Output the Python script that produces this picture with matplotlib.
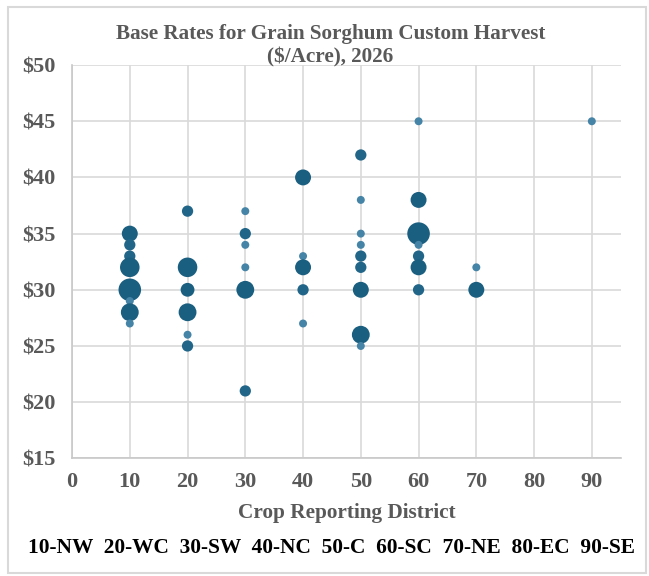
import matplotlib
matplotlib.use("Agg")
import matplotlib.pyplot as plt
import numpy as np

# district code, rate ($/acre), number of responses (bubble size)
district = [10, 10, 10, 10, 10, 10, 10, 10,
            20, 20, 20, 20, 20, 20,
            30, 30, 30, 30, 30, 30,
            40, 40, 40, 40, 40,
            50, 50, 50, 50, 50, 50, 50, 50, 50,
            60, 60, 60, 60, 60, 60, 60,
            70, 70,
            90]
rate = [35, 34, 33, 32, 30, 29, 28, 27,
        37, 32, 30, 28, 26, 25,
        37, 35, 34, 32, 30, 21,
        40, 33, 32, 30, 27,
        42, 38, 35, 34, 33, 32, 30, 26, 25,
        45, 38, 35, 34, 33, 32, 30,
        32, 30,
        45]
count = [4, 2, 2, 6, 8, 1, 5, 1,
         2, 6, 3, 5, 1, 2,
         1, 2, 1, 1, 5, 2,
         4, 1, 4, 2, 1,
         2, 1, 1, 1, 2, 2, 4, 5, 1,
         1, 4, 8, 1, 2, 4, 2,
         1, 4,
         1]
region_labels = ["10-NW", "20-WC", "30-SW", "40-NC", "50-C",
                 "60-SC", "70-NE", "80-EC", "90-SE"]

grey = "#595959"
plt.rcParams["font.family"] = ["Liberation Serif", "DejaVu Serif"]
plt.rcParams["font.weight"] = "bold"

fig = plt.figure(figsize=(6.49, 5.76), dpi=100)
ax = fig.add_axes([0.111, 0.2043, 0.8454, 0.6827])

cnt = np.array(count)
sizes = 33 * cnt
colors = ["#4584a6" if c == 1 else ("#216689" if c == 2 else "#1a5e80") for c in cnt]
ax.scatter(district, rate, s=sizes, c=colors, linewidths=0, zorder=3)

ax.set_xlim(0, 95)
ax.set_ylim(15, 50)
ax.set_xticks(range(0, 100, 10))
ax.set_yticks(range(15, 55, 5))
ax.set_yticklabels(["$%d" % v for v in range(15, 55, 5)])
ax.grid(True, color="#d9d9d9", linewidth=1.2, zorder=0)
ax.tick_params(length=0, labelsize=16, labelcolor=grey)
ax.tick_params(axis="y", pad=12)
ax.tick_params(axis="x", pad=10)
for side in ["top", "right"]:
    ax.spines[side].set_visible(False)
for side in ["left", "bottom"]:
    ax.spines[side].set_color("#c8c8c8")
    ax.spines[side].set_linewidth(1.2)

ax.set_xlabel("Crop Reporting District", fontsize=15.3, color=grey,
              fontweight="bold", labelpad=8)
fig.text(0.509, 0.941, "Base Rates for Grain Sorghum Custom Harvest",
         ha="center", va="center", fontsize=15.2, color=grey, fontweight="bold")
fig.text(0.509, 0.901, "($/Acre), 2026",
         ha="center", va="center", fontsize=15.2, color=grey, fontweight="bold")
fig.text(0.511, 0.048, "  ".join(region_labels), ha="center", va="center",
         fontsize=15.4, color="black", fontweight="bold")

border = plt.Rectangle((0.012, 0.005), 0.983, 0.983, transform=fig.transFigure,
                       fill=False, edgecolor="#d9d9d9", linewidth=1.5)
fig.patches.append(border)

fig.savefig("out.png", dpi=100)
